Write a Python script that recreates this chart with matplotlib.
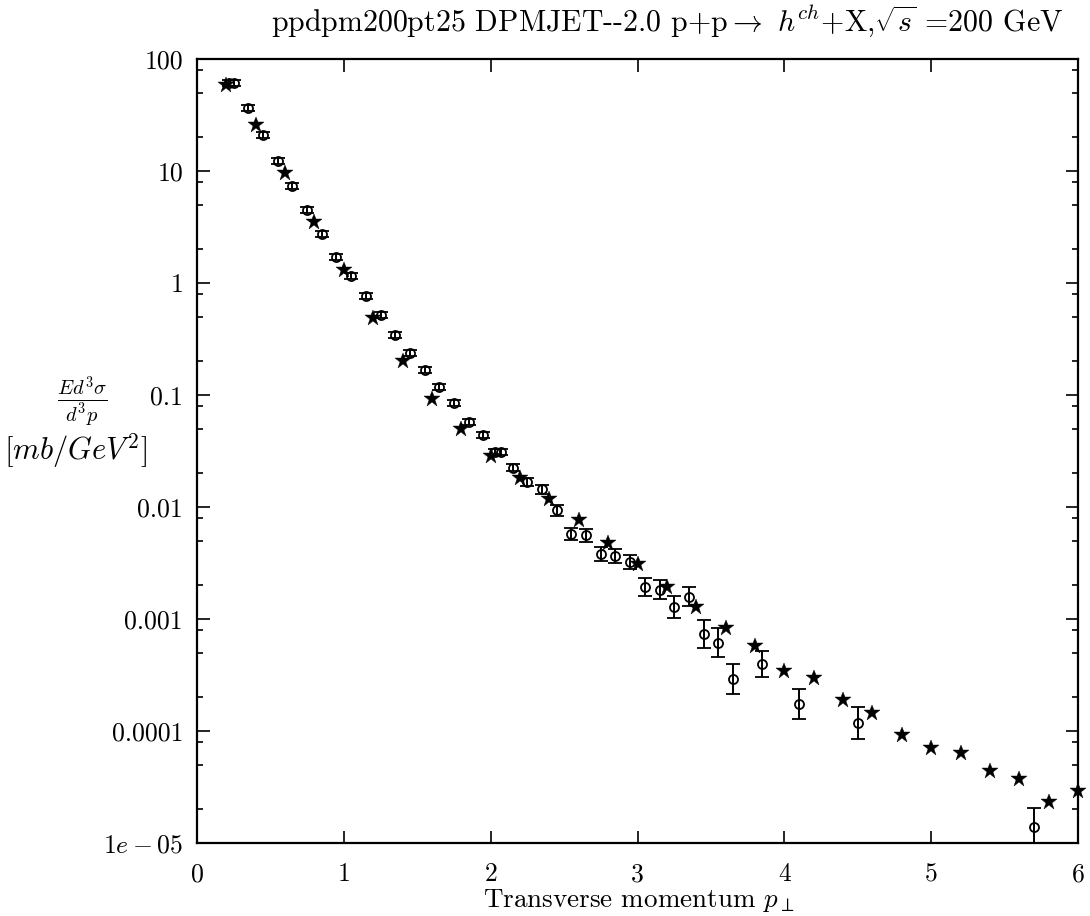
import matplotlib
matplotlib.use("Agg")
import matplotlib.pyplot as plt
import numpy as np
from matplotlib.ticker import FixedLocator, NullFormatter, NullLocator

plt.rcParams['mathtext.fontset'] = 'cm'
plt.rcParams['font.family'] = ['cmr10', 'DejaVu Serif']
plt.rcParams['axes.formatter.use_mathtext'] = True

# ---- data ----
star_x = [0.2, 0.4, 0.6, 0.8, 1.0, 1.2, 1.4, 1.6, 1.8, 2.0, 2.2, 2.4, 2.6, 2.8, 3.0,
          3.2, 3.4, 3.6, 3.8, 4.0, 4.2, 4.4, 4.6, 4.8, 5.0, 5.2, 5.4, 5.6, 5.8, 6.0]
star_y = [58.6, 25.8, 9.53, 3.52, 1.31, 0.484, 0.201, 0.0916, 0.0497, 0.0287,
          0.0183, 0.0118, 0.00766, 0.0048, 0.0031, 0.00194, 0.00127, 0.000826,
          0.000574, 0.000345, 0.000299, 0.000189, 0.000144, 9.2e-5, 7.1e-5,
          6.3e-5, 4.4e-5, 3.7e-5, 2.3e-5, 2.9e-5]

circ_x = [0.22, 0.25, 0.35, 0.45, 0.55, 0.65, 0.75, 0.85, 0.95, 1.05, 1.15, 1.25,
          1.35, 1.45, 1.55, 1.65, 1.75, 1.85, 1.95, 2.03, 2.07, 2.15, 2.25, 2.35,
          2.45, 2.55, 2.65, 2.75, 2.85, 2.95, 3.05, 3.15, 3.25, 3.35, 3.45, 3.55,
          3.65, 3.85, 4.1, 4.5, 5.7]
circ_y = [61.4, 61.4, 36.3, 20.8, 12.3, 7.35, 4.51, 2.74, 1.71, 1.15, 0.766, 0.515,
          0.341, 0.236, 0.167, 0.117, 0.0843, 0.0570, 0.0437, 0.0308, 0.0308, 0.0224,
          0.0168, 0.0144, 0.00935, 0.00574, 0.00562, 0.0038, 0.00367, 0.00325,
          0.00194, 0.00182, 0.00127, 0.00158, 0.00073, 0.000614, 0.00029, 0.000396,
          0.000174, 0.000119, 1.40e-5]
# error half-width in decades (log10 units)
circ_err_dex = [0.027, 0.027, 0.027, 0.027, 0.027, 0.027, 0.027, 0.027, 0.027, 0.027,
                0.027, 0.027, 0.027, 0.027, 0.027, 0.027, 0.027, 0.027, 0.027, 0.027,
                0.027, 0.031, 0.036, 0.038, 0.047, 0.058, 0.058, 0.060, 0.063, 0.063,
                0.080, 0.085, 0.098, 0.083, 0.125, 0.131, 0.134, 0.116, 0.134, 0.143,
                0.170]

x_ticks = [0, 1, 2, 3, 4, 5, 6]
y_ticks = [1e-5, 1e-4, 1e-3, 1e-2, 1e-1, 1, 10, 100]
y_ticklabels = [r'$1e-05$', '0.0001', '0.001', '0.01', '0.1', '1', '10', '100']

title_txt = r'ppdpm200pt25 DPMJET--2.0 p+p$\rightarrow$ $h^{ch}$+X,$\sqrt{s}$ =200 GeV'
xlabel_txt = r'Transverse momentum $p_{\perp}$'
ylabel_frac = r'$\frac{Ed^3\sigma}{d^3p}$'
ylabel_unit = r'$[mb/GeV^2]$'

# ---- figure ----
W, H = 1090, 916
fig = plt.figure(figsize=(W / 100, H / 100), dpi=100)
L, R, T, B = 197, 1078, 59, 843
ax = fig.add_axes([L / W, 1 - B / H, (R - L) / W, (B - T) / H])

cy = np.array(circ_y)
ce = np.array(circ_err_dex)
lo = cy - cy * 10 ** (-ce)
hi = cy * 10 ** ce - cy
ax.errorbar(circ_x, circ_y, yerr=[lo, hi], fmt='o', mfc='none', mec='black',
            ms=6.5, mew=1.3, ecolor='black', elinewidth=1.4, capsize=5, capthick=1.6,
            zorder=3)
ax.plot(star_x, star_y, linestyle='none', marker='*', ms=12, color='black',
        mec='black', mew=0.3, zorder=4, clip_on=False)

ax.set_yscale('log')
ax.set_xlim(0, 6)
ax.set_ylim(1e-5, 100)

ax.xaxis.set_major_locator(FixedLocator(x_ticks))
ax.xaxis.set_minor_locator(NullLocator())
ax.set_xticklabels([str(v) for v in x_ticks])
ax.yaxis.set_major_locator(FixedLocator(y_ticks))
minors = [m * 10.0 ** e for e in range(-5, 2) for m in (2, 5, 8)]
ax.yaxis.set_minor_locator(FixedLocator(minors))
ax.yaxis.set_minor_formatter(NullFormatter())
ax.set_yticklabels(y_ticklabels)

ax.tick_params(which='both', direction='in', top=True, right=True, width=1.2,
               labelsize=18.5, colors='black')
ax.tick_params(which='major', length=9)
ax.tick_params(which='minor', length=4)
ax.tick_params(axis='x', pad=14)
ax.tick_params(axis='y', pad=10)
for sp in ax.spines.values():
    sp.set_linewidth(1.6)

fig.text(667 / W, 1 - 21 / H, title_txt, ha='center', va='center', fontsize=21.5)
fig.text(639 / W, 1 - 901 / H, xlabel_txt, ha='center', va='center', fontsize=19.5)
fig.text(82 / W, 1 - 402 / H, ylabel_frac, ha='center', va='center', fontsize=21)
fig.text(75 / W, 1 - 451 / H, ylabel_unit, ha='center', va='center', fontsize=22)

fig.savefig('out.png', dpi=100)
